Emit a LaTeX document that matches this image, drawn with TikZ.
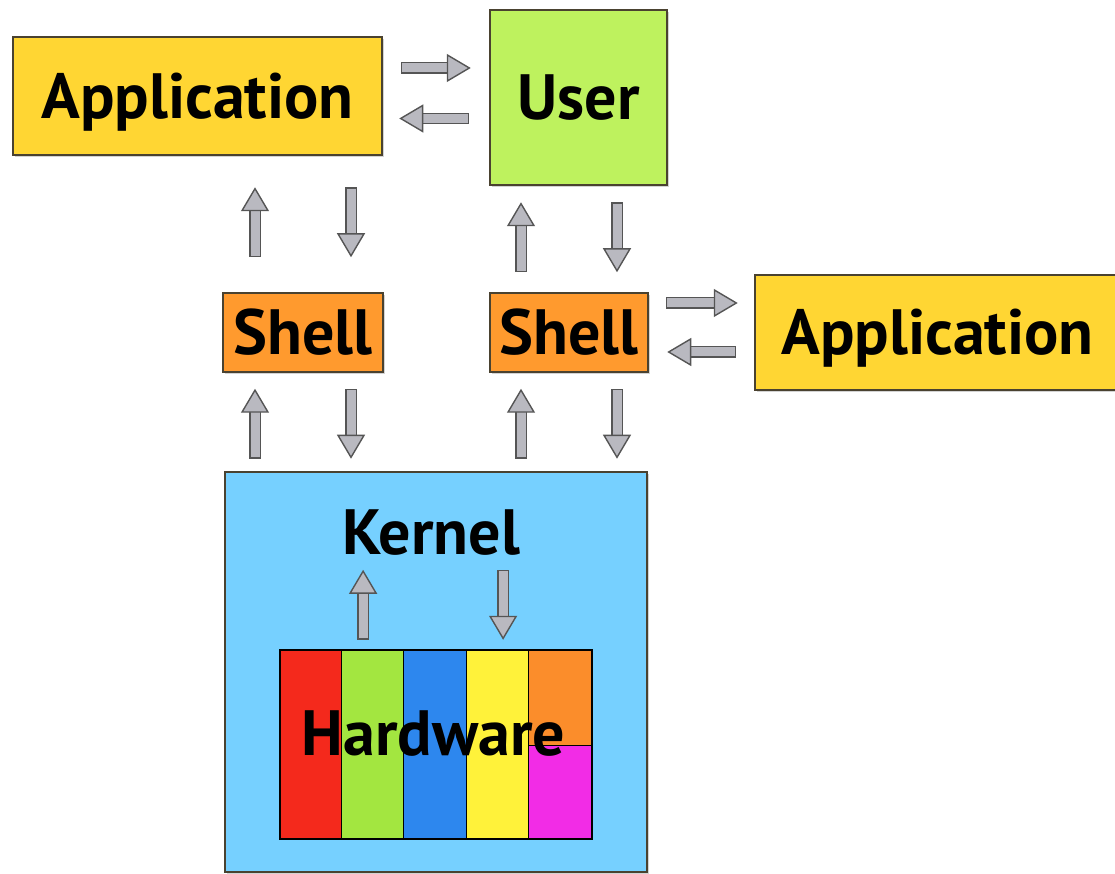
\documentclass[tikz,border=0pt]{standalone}
\usepackage{fontspec}
\setmainfont{PT Sans}
\usetikzlibrary{arrows.meta,calc,shadows}
\definecolor{appyellow}{HTML}{FFD633}
\definecolor{usergreen}{HTML}{BEF25E}
\definecolor{shellorange}{HTML}{FF9A2E}
\definecolor{kernelblue}{HTML}{76D0FF}
\definecolor{boxline}{HTML}{4A4230}
\definecolor{arrowfill}{HTML}{B9B9C0}
\definecolor{arrowline}{HTML}{555555}
\definecolor{hwred}{HTML}{F4291C}
\definecolor{hwgreen}{HTML}{A3E640}
\definecolor{hwblue}{HTML}{2D87EE}
\definecolor{hwyellow}{HTML}{FFF23A}
\definecolor{hworange}{HTML}{FB8D2B}
\definecolor{hwmagenta}{HTML}{F22CE6}
\tikzset{
  bigfont/.style={font=\bfseries\fontsize{64}{72}\selectfont,
    text height=45pt, text depth=0pt},
  box/.style={rectangle, draw=boxline, line width=1.5pt, inner sep=0pt, bigfont,
    drop shadow={shadow xshift=2pt, shadow yshift=-2pt, opacity=0.35}},
  garrow/.style={draw=arrowline, line width=1.4pt, double=arrowfill,
    double distance=9pt, line cap=rect, shorten <=5.9pt,
    -{Triangle[length=24pt, width=28pt, fill=arrowfill, line width=1.4pt]}}
}
\begin{document}
\begin{tikzpicture}[x=1pt,y=1pt]
\useasboundingbox (0,0) rectangle (1115,874);
% draw kernel
\node[box, fill=kernelblue, minimum width=422pt, minimum height=400pt] (kernel) at (436,202) {};
\node[bigfont, inner sep=0pt] (kname) at (431,341.5) {Kernel};
% draw hardware stripes
\coordinate (hwsw) at (279,34);
\foreach \c [count=\i from 0] in {hwred,hwgreen,hwblue,hwyellow}
  \fill[\c] ($(hwsw)+(\i*62.4,0)$) rectangle ++(62.4,189);
\fill[hworange] ($(hwsw)+(249.6,94)$) rectangle ++(62.4,95);
\fill[hwmagenta] ($(hwsw)+(249.6,0)$) rectangle ++(62.4,94);
\foreach \i in {1,2,3,4}
  \draw[line width=1pt] ($(hwsw)+(\i*62.4,0)$) -- ++(0,189);
\draw[line width=1pt] ($(hwsw)+(249.6,94)$) -- ++(62.4,0);
\node[draw=black, line width=2.2pt, minimum width=312pt, minimum height=189pt, anchor=south west] (hw) at (hwsw) {};
\node[bigfont, inner sep=0pt] (hwname) at (433.5,140.5) {Hardware};
% draw boxes
\node[box, fill=appyellow, minimum width=369pt, minimum height=118pt] (appL) at (197.5,778) {Application};
\node[box, fill=usergreen, minimum width=177pt, minimum height=175pt] (user) at (578.5,776.5) {User};
\node[box, fill=shellorange, minimum width=160pt, minimum height=79pt] (shellL) at (303,541.5) {Shell};
\node[box, fill=shellorange, minimum width=158pt, minimum height=79pt] (shellR) at (569,541.5) {Shell};
\node[box, fill=appyellow, minimum width=365pt, minimum height=115pt] (appR) at (937.5,541.5) {Application};
% draw horizontal arrows
\draw[garrow] ($(appL.east)+(18,28)$) -- ++(70,0);
\draw[garrow] ($(user.west)+(-20,-21)$) -- ++(-70,0);
\draw[garrow] ($(shellR.east)+(17,29.5)$) -- ++(72,0);
\draw[garrow] ($(appR.west)+(-18,-19.5)$) -- ++(-69,0);
% draw vertical arrows
\foreach \s/\a in {shellL/35,shellR/20} {
  \draw[garrow] ($(\s.north)+(-48,\a)$) -- ++(0,70);
  \draw[garrow] ($(\s.north)+(48,\a+70)$) -- ++(0,-70);
  \draw[garrow] ($(\s.south)+(-48,-86)$) -- ++(0,70);
  \draw[garrow] ($(\s.south)+(48,-16)$) -- ++(0,-70);
}
\draw[garrow] ($(hw.north)+(-73,9)$) -- ++(0,70);
\draw[garrow] ($(hw.north)+(67,79)$) -- ++(0,-70);
\end{tikzpicture}
\end{document}
